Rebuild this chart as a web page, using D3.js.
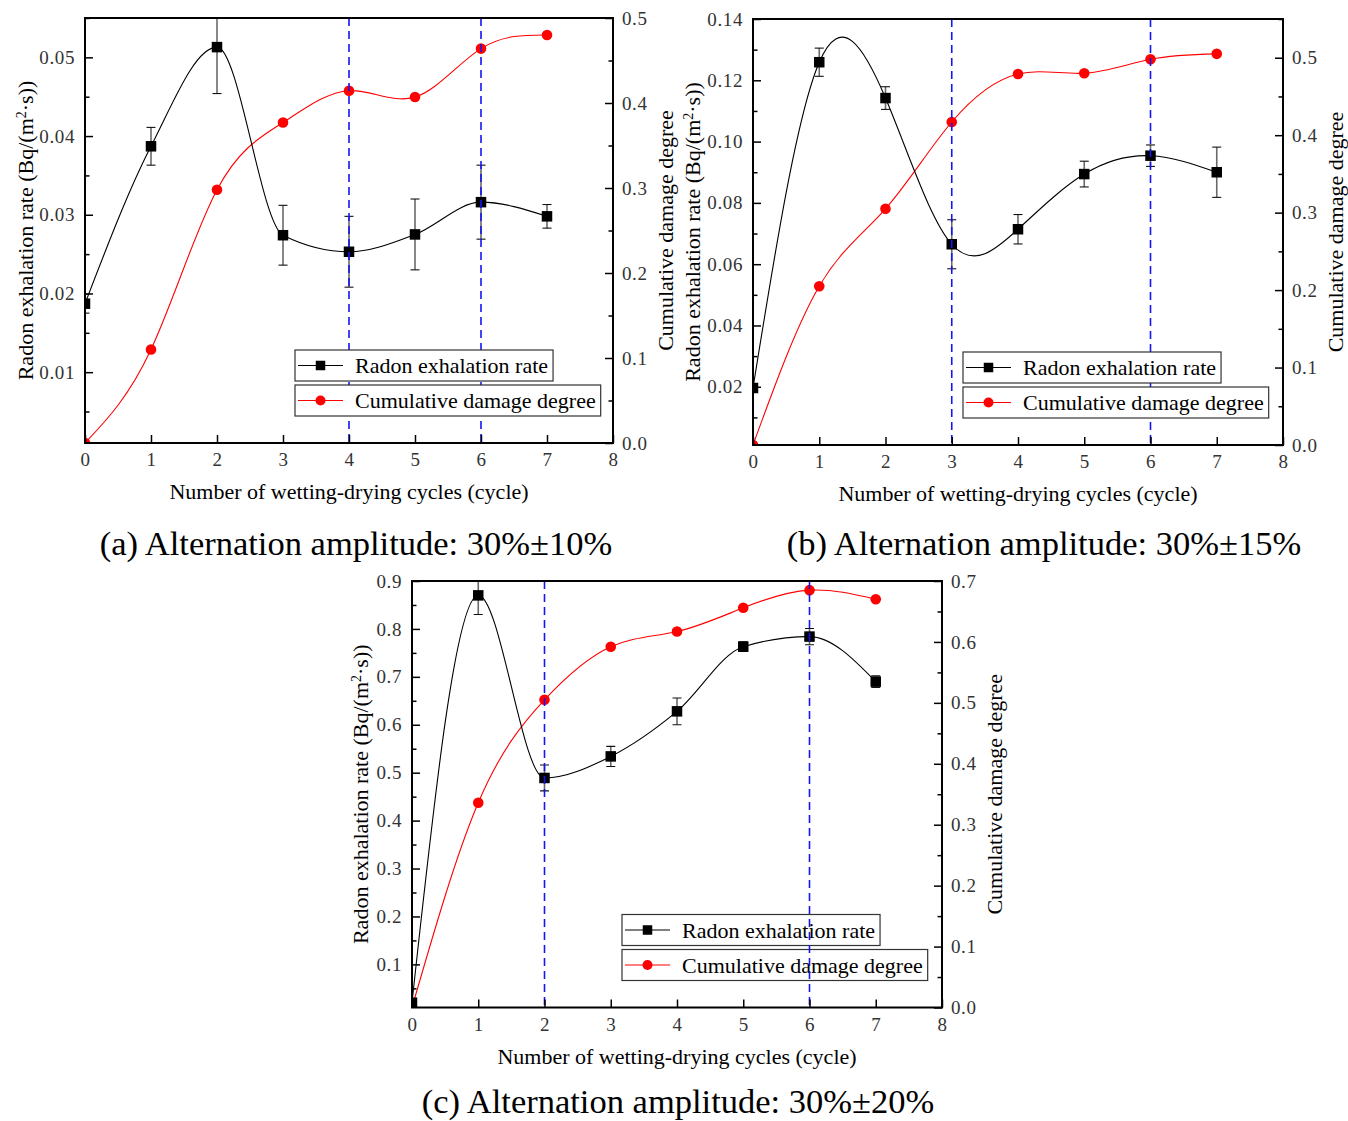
<!DOCTYPE html>
<html>
<head>
<meta charset="utf-8">
<script src="https://cdn.jsdelivr.net/npm/d3@7"></script>
<style>
  body { margin: 0; background: #fff; }
  svg text { font-family: "Liberation Serif", "Times New Roman", serif; }
</style>
</head>
<body>
<script>
// ---------- DATA ----------
const cycles = [0, 1, 2, 3, 4, 5, 6, 7];
const xTickValues = [0, 1, 2, 3, 4, 5, 6, 7, 8];

// (a) 30% ± 10%
const radonA = [0.0187, 0.0387, 0.0513, 0.0274, 0.0253, 0.0275, 0.0316, 0.0298];
const radonErrA = [0.0012, 0.0024, 0.0059, 0.0038, 0.0045, 0.0045, 0.0047, 0.0015];
const damageA = [0.0, 0.110, 0.298, 0.377, 0.4145, 0.407, 0.464, 0.480];
const dashedA = [4, 6];
const leftTicksA = [0.01, 0.02, 0.03, 0.04, 0.05];
const rightTicksA = [0.0, 0.1, 0.2, 0.3, 0.4, 0.5];

// (b) 30% ± 15%
const radonB = [0.0196, 0.1259, 0.1142, 0.0665, 0.0714, 0.0894, 0.0954, 0.0900];
const radonErrB = [0.0010, 0.0046, 0.0037, 0.0080, 0.0048, 0.0042, 0.0035, 0.0082];
const damageB = [0.0, 0.205, 0.305, 0.417, 0.479, 0.480, 0.498, 0.505];
const dashedB = [3, 6];
const leftTicksB = [0.02, 0.04, 0.06, 0.08, 0.10, 0.12, 0.14];
const rightTicksB = [0.0, 0.1, 0.2, 0.3, 0.4, 0.5];

// (c) 30% ± 20%
const radonC = [0.020, 0.870, 0.489, 0.534, 0.628, 0.763, 0.784, 0.690];
const radonErrC = [0.008, 0.040, 0.027, 0.021, 0.028, 0.010, 0.017, 0.012];
const damageC = [0.0, 0.336, 0.505, 0.592, 0.617, 0.656, 0.685, 0.670];
const dashedC = [2, 6];
const leftTicksC = [0.1, 0.2, 0.3, 0.4, 0.5, 0.6, 0.7, 0.8, 0.9];
const rightTicksC = [0.0, 0.1, 0.2, 0.3, 0.4, 0.5, 0.6, 0.7];

const legendLabels = ["Radon exhalation rate", "Cumulative damage degree"];
const xTitle = "Number of wetting-drying cycles (cycle)";
const rightTitle = "Cumulative damage degree";
const captions = ["(a) Alternation amplitude: 30%±10%", "(b) Alternation amplitude: 30%±15%", "(c) Alternation amplitude: 30%±20%"];

// ---------- LAYOUT ----------
const panels = [
  { id: "a", radon: radonA, err: radonErrA, damage: damageA, dashed: dashedA,
    leftTicks: leftTicksA, rightTicks: rightTicksA, leftDomain: [0.001, 0.055], rightDomain: [0, 0.5],
    leftMinorStep: 0.005, leftFmt: ".2f", caption: captions[0], radonCurve: d3.curveMonotoneX,
    left: 85, right: 613, top: 18, bottom: 443, leftTitleOff: 60, capX: 356, capY: 555, dashOver: false },
  { id: "b", radon: radonB, err: radonErrB, damage: damageB, dashed: dashedB,
    leftTicks: leftTicksB, rightTicks: rightTicksB, leftDomain: [0.001, 0.14], rightDomain: [0, 0.55],
    leftMinorStep: 0.01, leftFmt: ".2f", caption: captions[1], radonCurve: d3.curveNatural,
    left: 753, right: 1283, top: 19, bottom: 445, leftTitleOff: 61, capX: 1044, capY: 555, dashOver: false },
  { id: "c", radon: radonC, err: radonErrC, damage: damageC, dashed: dashedC,
    leftTicks: leftTicksC, rightTicks: rightTicksC, leftDomain: [0.01, 0.9], rightDomain: [0, 0.7],
    leftMinorStep: 0.05, leftFmt: ".1f", caption: captions[2], radonCurve: d3.curveMonotoneX,
    left: 412, right: 942, top: 581, bottom: 1007.5, leftTitleOff: 52, capX: 678, capY: 1113, dashOver: true }
];

const svg = d3.select("body").append("svg").attr("width", 1348).attr("height", 1121);

function minorTicks(domain, step) {
  const out = [];
  for (let v = step; v <= domain[1] + 1e-9; v += step) {
    const r = Math.round(v / step);
    if (r % 2 === 1 && v >= domain[0]) out.push(+v.toFixed(4));
  }
  return out;
}

panels.forEach(p => {
  const g = svg.append("g");
  const x = d3.scaleLinear().domain([0, 8]).range([p.left, p.right]);
  const yL = d3.scaleLinear().domain(p.leftDomain).range([p.bottom, p.top]);
  const yR = d3.scaleLinear().domain(p.rightDomain).range([p.bottom, p.top]);

  const clipId = "clip-" + p.id;
  svg.append("clipPath").attr("id", clipId).append("rect")
    .attr("x", p.left).attr("y", p.top).attr("width", p.right - p.left).attr("height", p.bottom - p.top);

  const plot = g.append("g").attr("clip-path", `url(#${clipId})`);

  const drawDashed = (layer) => {
    layer.selectAll(".dash").data(p.dashed).join("line")
      .attr("x1", d => x(d)).attr("x2", d => x(d))
      .attr("y1", p.top).attr("y2", p.bottom)
      .attr("stroke", "#1414f5").attr("stroke-width", 1.6).attr("stroke-dasharray", "8,5");
  };

  // curves
  const lineR = d3.line().x((d, i) => x(cycles[i])).y(d => yL(d)).curve(p.radonCurve);
  const lineD = d3.line().x((d, i) => x(cycles[i])).y(d => yR(d)).curve(d3.curveNatural);
  plot.append("path").attr("d", lineD(p.damage)).attr("fill", "none").attr("stroke", "#ff0000").attr("stroke-width", 1.1);
  plot.append("path").attr("d", lineR(p.radon)).attr("fill", "none").attr("stroke", "#000").attr("stroke-width", 1.1);

  // error bars
  const eb = plot.append("g");
  p.radon.forEach((v, i) => {
    const e = p.err[i];
    const cx = x(cycles[i]);
    eb.append("line").attr("x1", cx).attr("x2", cx).attr("y1", yL(v - e)).attr("y2", yL(v + e))
      .attr("stroke", "#6a6a6a").attr("stroke-width", 1.6);
    [v - e, v + e].forEach(t => {
      eb.append("line").attr("x1", cx - 4.5).attr("x2", cx + 4.5).attr("y1", yL(t)).attr("y2", yL(t))
        .attr("stroke", "#111").attr("stroke-width", 1.1);
    });
  });

  // markers
  plot.selectAll(".dm").data(p.damage).join("circle")
    .attr("cx", (d, i) => x(cycles[i])).attr("cy", d => yR(d)).attr("r", 5.3).attr("fill", "#ff0000");
  plot.selectAll(".rm").data(p.radon).join("rect")
    .attr("x", (d, i) => x(cycles[i]) - 5.25).attr("y", d => yL(d) - 5.25)
    .attr("width", 10.5).attr("height", 10.5).attr("fill", "#000");

  if (!p.dashOver) drawDashed(plot.append("g"));

  // legend
  const lg = g.append("g");
  const lx = p.left + 210;
  const ly = p.bottom - 93;
  legendLabels.forEach((lab, k) => {
    const by = ly + k * 35;
    const rect = lg.append("rect").attr("x", lx).attr("y", by).attr("height", 31)
      .attr("fill", "#fff").attr("stroke", "#333").attr("stroke-width", 1.2);
    const col = k === 0 ? "#000" : "#ff0000";
    lg.append("line").attr("x1", lx + 3).attr("x2", lx + 48).attr("y1", by + 15.5).attr("y2", by + 15.5)
      .attr("stroke", col).attr("stroke-width", 1.1);
    if (k === 0) {
      lg.append("rect").attr("x", lx + 25.5 - 4.75).attr("y", by + 15.5 - 4.75).attr("width", 9.5).attr("height", 9.5).attr("fill", "#000");
    } else {
      lg.append("circle").attr("cx", lx + 25.5).attr("cy", by + 15.5).attr("r", 5).attr("fill", "#ff0000");
    }
    const t = lg.append("text").attr("x", lx + 60).attr("y", by + 23).attr("font-size", 22).attr("fill", "#000").text(lab);
    const w = t.node().getComputedTextLength();
    rect.attr("width", 60 + w + 5);
  });

  if (p.dashOver) drawDashed(g.append("g").attr("clip-path", `url(#${clipId})`));

  // frame
  g.append("rect").attr("x", p.left).attr("y", p.top).attr("width", p.right - p.left).attr("height", p.bottom - p.top)
    .attr("fill", "none").attr("stroke", "#000").attr("stroke-width", 2);

  const styleAxis = sel => {
    sel.attr("font-family", null);
    sel.select(".domain").remove();
    sel.selectAll(".tick line").attr("stroke", "#000").attr("stroke-width", 1.5);
    sel.selectAll(".tick text")
      .style("font-family", '"Liberation Serif", "Times New Roman", serif')
      .style("font-size", "19px")
      .style("letter-spacing", "0.6px")
      .attr("fill", "#333");
  };

  // left axis
  g.append("g").attr("transform", `translate(${p.left},0)`)
    .call(d3.axisLeft(yL).tickValues(p.leftTicks).tickSizeInner(-8).tickSizeOuter(0).tickPadding(10).tickFormat(d3.format(p.leftFmt)))
    .call(styleAxis);
  g.append("g").attr("transform", `translate(${p.left},0)`)
    .call(d3.axisLeft(yL).tickValues(minorTicks(p.leftDomain, p.leftMinorStep)).tickSizeInner(-4.5).tickSizeOuter(0).tickFormat(""))
    .call(styleAxis);
  // right axis
  g.append("g").attr("transform", `translate(${p.right},0)`)
    .call(d3.axisRight(yR).tickValues(p.rightTicks).tickSizeInner(-8).tickSizeOuter(0).tickPadding(9).tickFormat(d3.format(".1f")))
    .call(styleAxis);
  g.append("g").attr("transform", `translate(${p.right},0)`)
    .call(d3.axisRight(yR).tickValues(minorTicks(p.rightDomain, 0.05)).tickSizeInner(-4.5).tickSizeOuter(0).tickFormat(""))
    .call(styleAxis);
  // bottom axis
  g.append("g").attr("transform", `translate(0,${p.bottom})`)
    .call(d3.axisBottom(x).tickValues(xTickValues).tickSizeInner(-8).tickSizeOuter(0).tickPadding(10).tickFormat(d3.format("d")))
    .call(styleAxis);

  // axis titles
  g.append("text").attr("x", (p.left + p.right) / 2).attr("y", p.bottom + 56)
    .attr("text-anchor", "middle").attr("font-size", 22).attr("fill", "#000").text(xTitle);

  const lt = g.append("text").attr("transform", `translate(${p.left - p.leftTitleOff},${(p.top + p.bottom) / 2}) rotate(-90)`)
    .attr("text-anchor", "middle").attr("dy", "0.35em").attr("font-size", 22).attr("fill", "#000");
  lt.append("tspan").text("Radon exhalation rate (Bq/(m");
  lt.append("tspan").attr("baseline-shift", "super").attr("font-size", 14).text("2");
  lt.append("tspan").text("·s))");

  g.append("text").attr("transform", `translate(${p.right + 52},${(p.top + p.bottom) / 2}) rotate(-90)`)
    .attr("text-anchor", "middle").attr("dy", "0.35em").attr("font-size", 22).attr("fill", "#000").text(rightTitle);

  // caption
  g.append("text").attr("x", p.capX).attr("y", p.capY).attr("text-anchor", "middle")
    .attr("font-size", 34.5).attr("fill", "#000").text(p.caption);
});
</script>
</body>
</html>
